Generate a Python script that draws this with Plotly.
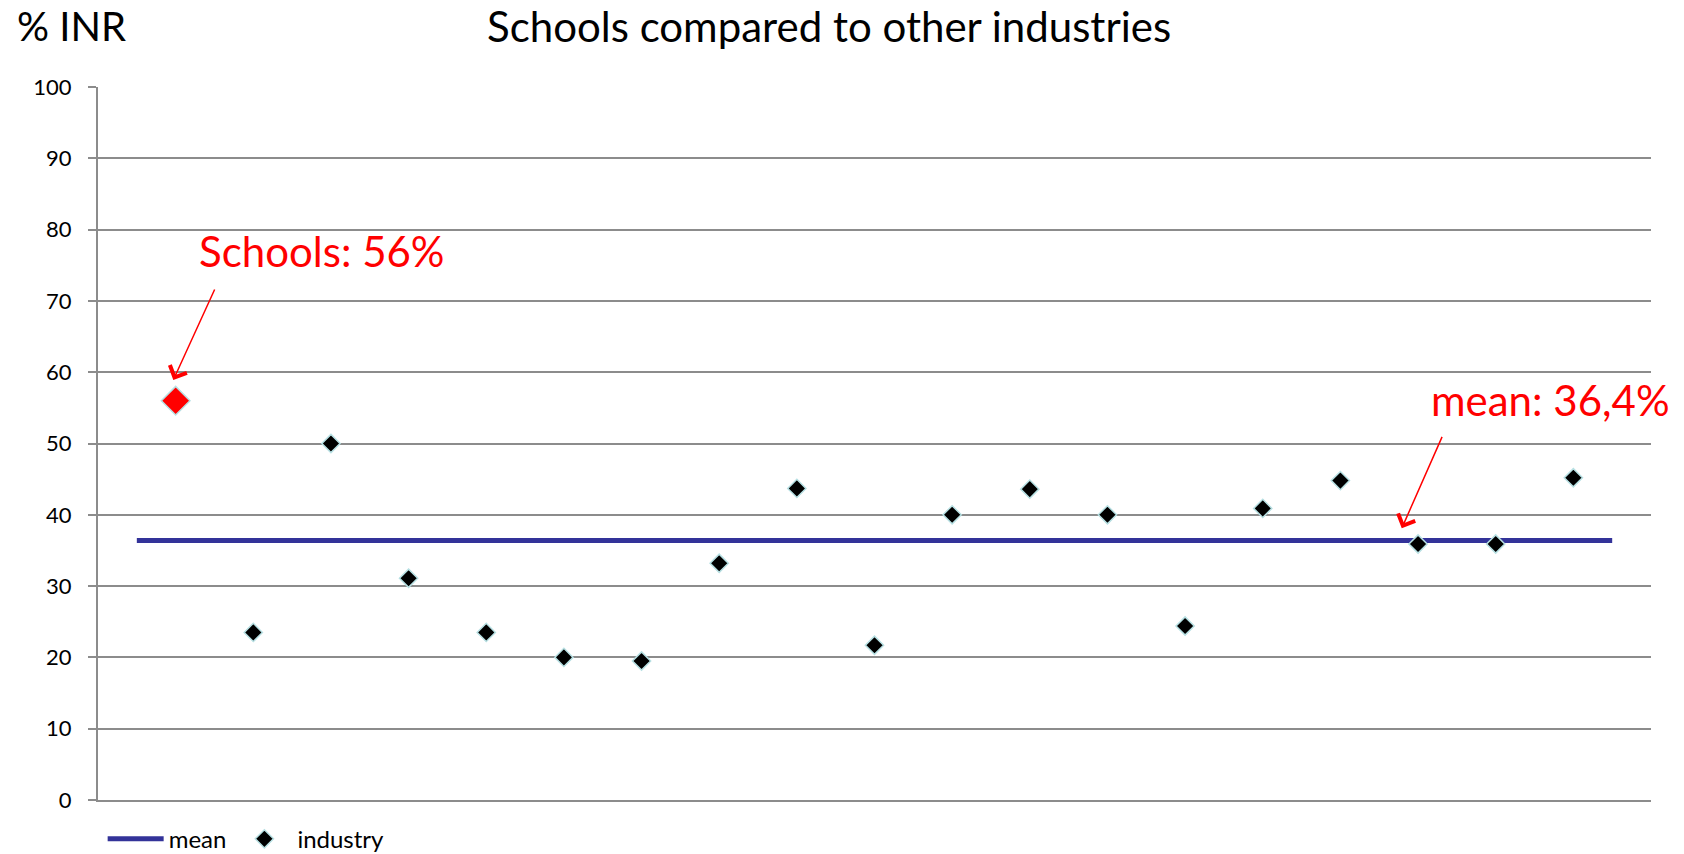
import plotly.graph_objects as go

# ---- data ----
school_label = "Schools"
school_index = [1]
school_value = [56]
industry_index = list(range(2, 20))
industry_values = [23.5, 50.0, 31.1, 23.5, 20.0, 19.5, 33.2, 43.7, 21.7,
                   40.0, 43.6, 40.0, 24.4, 40.9, 44.8, 35.9, 35.9, 45.2]
mean_value = 36.4
mean_x = [0.5, 19.5]
y_ticks = [0, 10, 20, 30, 40, 50, 60, 70, 80, 90, 100]

FONT = "Lato"
GRID = "#8c8c8c"
PLOT_TOP, PLOT_H, PLOT_L, PLOT_W = 87, 713, 98, 1553
title_y = 1 + (PLOT_TOP - 26) / PLOT_H

fig = go.Figure()
fig.add_trace(go.Scatter(
    x=mean_x, y=[mean_value, mean_value], mode="lines", name="mean",
    line=dict(color="#333399", width=5), hoverinfo="skip"))
fig.add_trace(go.Scatter(
    x=industry_index, y=industry_values, mode="markers", name="industry",
    marker=dict(symbol="diamond", size=14, color="black",
                line=dict(color="#b7e0e3", width=1.5))))
fig.add_trace(go.Scatter(
    x=school_index, y=school_value, mode="markers", name=school_label,
    showlegend=False,
    marker=dict(symbol="diamond", size=22, color="#ff0000",
                line=dict(color="#b7e0e3", width=1.5))))

annotations = [
    dict(text="Schools compared to other industries", x=(829 - PLOT_L) / PLOT_W, y=title_y,
         xref="paper", yref="paper", xanchor="center", yanchor="middle",
         showarrow=False, font=dict(size=42, color="black", family=FONT)),
    dict(text="% INR", x=(15 - PLOT_L) / PLOT_W, y=title_y, xref="paper", yref="paper",
         xanchor="left", yanchor="middle", showarrow=False,
         font=dict(size=40, color="black", family=FONT)),
    dict(text="Schools: 56%", x=2.88, y=77.0, xref="x", yref="y",
         xanchor="center", yanchor="middle", showarrow=False,
         font=dict(size=42, color="#ff0000", family=FONT)),
    dict(text="mean: 36,4%", x=18.71, y=56.1, xref="x", yref="y",
         xanchor="center", yanchor="middle", showarrow=False,
         font=dict(size=42, color="#ff0000", family=FONT)),
    dict(text="", x=school_index[0] - 0.03, y=school_value[0] + 2.9,
         xref="x", yref="y", showarrow=True, ax=42, ay=-92,
         arrowhead=4, arrowsize=2.4, arrowwidth=1.5, arrowcolor="#ff0000"),
    dict(text="", x=16.79, y=mean_value + 1.7,
         xref="x", yref="y", showarrow=True, ax=41, ay=-93,
         arrowhead=4, arrowsize=2.4, arrowwidth=1.5, arrowcolor="#ff0000"),
]

fig.update_layout(
    width=1684, height=854,
    margin=dict(l=98, r=33, t=87, b=54, autoexpand=False),
    paper_bgcolor="white", plot_bgcolor="white",
    font=dict(family=FONT, color="black"),
    showlegend=True,
    legend=dict(orientation="h", x=0.003, xanchor="left", y=-0.055, yanchor="middle",
                font=dict(size=24, family=FONT, color="black"),
                itemwidth=56, tracegroupgap=0, bgcolor="rgba(0,0,0,0)"),
    annotations=annotations,
    xaxis=dict(range=[0, 20], showgrid=False, zeroline=False, showticklabels=False,
               ticks="", showline=True, linecolor=GRID, linewidth=2, fixedrange=True),
    yaxis=dict(range=[0, 100], tickvals=y_ticks, showgrid=True, gridcolor=GRID,
               gridwidth=2, zeroline=False, showline=True, linecolor=GRID,
               linewidth=2, ticks="outside", ticklen=8, tickcolor=GRID, tickwidth=2,
               ticklabelstandoff=12,
               tickfont=dict(size=22, family=FONT, color="black")),
)

fig.write_html("out.html")
